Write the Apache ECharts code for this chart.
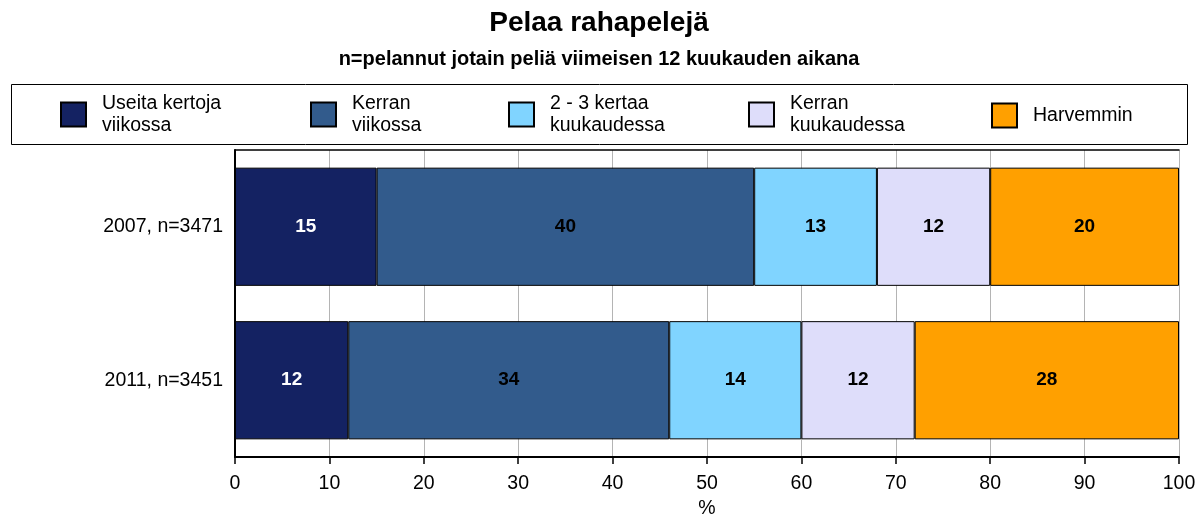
<!DOCTYPE html>
<html>
<head>
<meta charset="utf-8">
<script src="https://cdn.jsdelivr.net/npm/echarts@6/dist/echarts.min.js"></script>
<style>
  html, body { margin: 0; padding: 0; background: #fff; }
  #chart { width: 1198px; height: 515px; }
</style>
</head>
<body>
<div id="chart"></div>
<script>
// data
const categories = ['2007, n=3471', '2011, n=3451']
const seriesNames = ['Useita kertoja\nviikossa', 'Kerran\nviikossa', '2 - 3 kertaa\nkuukaudessa', 'Kerran\nkuukaudessa', 'Harvemmin']
const useitaViikossa = [15, 12]
const kerranViikossa = [40, 34]
const kertaaKuukaudessa = [13, 14]
const kerranKuukaudessa = [12, 12]
const harvemmin = [20, 28]
const values = [useitaViikossa, kerranViikossa, kertaaKuukaudessa, kerranKuukaudessa, harvemmin]

const colors = ['#142262', '#325B8C', '#80D4FF', '#DEDDFA', '#FFA000']
const labelColors = ['#fff', '#000', '#000', '#000', '#000']
const legendLeft = [60, 310, 508, 748, 991]

const FONT = '"Liberation Sans", Arial, sans-serif'
const BODY = 19.5

const chart = echarts.init(document.getElementById('chart'), null, { renderer: 'canvas' })

// 每个图例单独定位
const legends = seriesNames.map((name, i) => ({
  data: [name],
  left: legendLeft[i],
  top: name.indexOf('\n') >= 0 ? 92.5 : 102.5,
  padding: 0,
  itemWidth: 25,
  itemHeight: 24,
  icon: 'rect',
  selectedMode: false,
  textStyle: {
    fontFamily: FONT,
    fontSize: BODY,
    lineHeight: 22,
    color: '#000',
    padding: [0, 0, 0, 11]
  }
}))

chart.setOption({
  animation: false,
  backgroundColor: '#fff',
  title: {
    text: 'Pelaa rahapelejä',
    subtext: 'n=pelannut jotain peliä viimeisen 12 kuukauden aikana',
    left: 'center',
    top: 4,
    itemGap: 12,
    textStyle: { fontFamily: FONT, fontSize: 28, fontWeight: 'bold', color: '#000' },
    subtextStyle: { fontFamily: FONT, fontSize: 20, fontWeight: 'bold', color: '#000' }
  },
  graphic: [{
    type: 'rect',
    shape: { x: 11.5, y: 84.5, width: 1176, height: 60 },
    style: { fill: 'none', stroke: '#000', lineWidth: 1 },
    z: -1
  }],
  legend: legends,
  grid: { left: 235, right: 19, top: 150, bottom: 58, outerBoundsMode: 'none', containLabel: false },
  xAxis: [{
    type: 'value',
    min: 0,
    max: 100,
    interval: 10,
    name: '%',
    nameLocation: 'middle',
    nameGap: 41,
    nameTextStyle: { fontFamily: FONT, fontSize: BODY, color: '#000' },
    axisLine: { show: true, lineStyle: { color: '#000', width: 2 } },
    axisTick: { show: true, length: 7, lineStyle: { color: '#000', width: 1.5 } },
    axisLabel: { fontFamily: FONT, fontSize: BODY, color: '#000', margin: 17 },
    splitLine: { show: true, lineStyle: { color: '#b4b4b4', width: 1 } }
  }, {
    type: 'value',
    position: 'top',
    min: 0,
    max: 100,
    interval: 10,
    axisLine: { show: true, lineStyle: { color: '#000', width: 1.5 } },
    axisTick: { show: false },
    axisLabel: { show: false },
    splitLine: { show: false }
  }],
  yAxis: {
    type: 'category',
    inverse: true,
    data: categories,
    axisLine: { show: true, lineStyle: { color: '#000', width: 2 } },
    axisTick: { show: false },
    axisLabel: { fontFamily: FONT, fontSize: BODY, color: '#000', margin: 12 }
  },
  series: values.map((vals, i) => ({
    name: seriesNames[i],
    type: 'bar',
    stack: 'total',
    barWidth: '77%',
    data: vals,
    itemStyle: { color: colors[i], borderColor: '#000', borderWidth: 1 },
    label: {
      show: true,
      position: 'inside',
      fontFamily: FONT,
      fontSize: 19,
      fontWeight: 'bold',
      color: labelColors[i]
    }
  }))
})
</script>
</body>
</html>
